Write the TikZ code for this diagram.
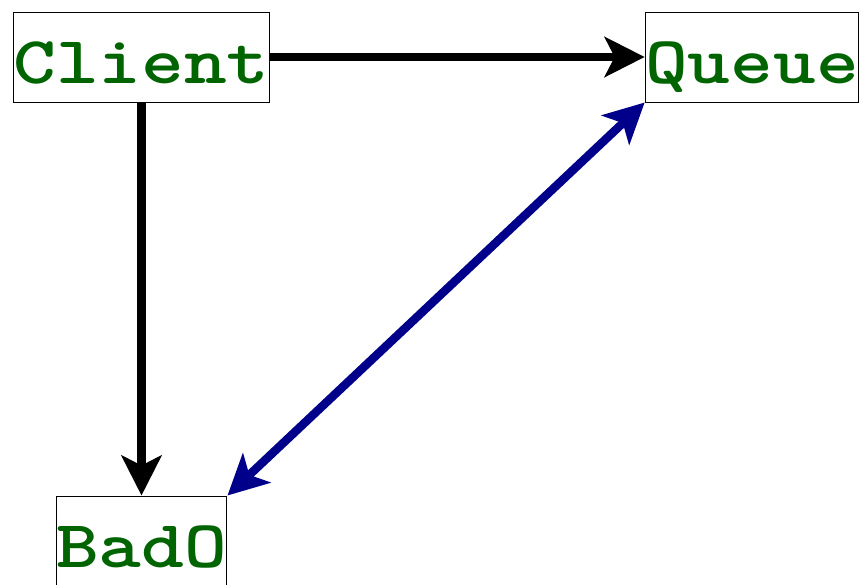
\documentclass[tikz,border=0pt]{standalone}
\usetikzlibrary{arrows.meta, positioning}
\definecolor{CodeGreen}{HTML}{006400}
\definecolor{NavyBlue}{HTML}{00008B}
\tikzset{
  objbox/.style={draw=black, line width=0.5pt, fill=white, inner sep=0pt, text height=35.5pt, text depth=9.5pt, text=CodeGreen, font=\ttfamily\bfseries\fontsize{40.7pt}{44pt}\selectfont},
  arrow/.style={-{Stealth[length=20pt, width=20pt, inset=5pt]}, line width=4.25pt, draw=black},
  bluearrow/.style={{Stealth[length=20pt, width=20pt, inset=5pt]}-{Stealth[length=20pt, width=20pt, inset=5pt]}, line width=4.25pt, draw=NavyBlue}
}
\newcommand{\objname}[1]{\scalebox{1}[0.825]{#1}}
\begin{document}
\begin{tikzpicture}[x=0.5pt, y=-0.5pt]
\useasboundingbox (0,0) rectangle (865,584);
\node[objbox] (client) at (141.5,57) {\objname{Client}};
\node[objbox] (queue) at (752,57) {\objname{Queue}};
\node[objbox] (bado) at (141.5,541) {\objname{BadO}};
\draw[arrow] (client) -- (queue);
\draw[arrow] (client) -- (bado);
\draw[bluearrow] (bado.north east) -- (queue.south west);
\end{tikzpicture}
\end{document}
